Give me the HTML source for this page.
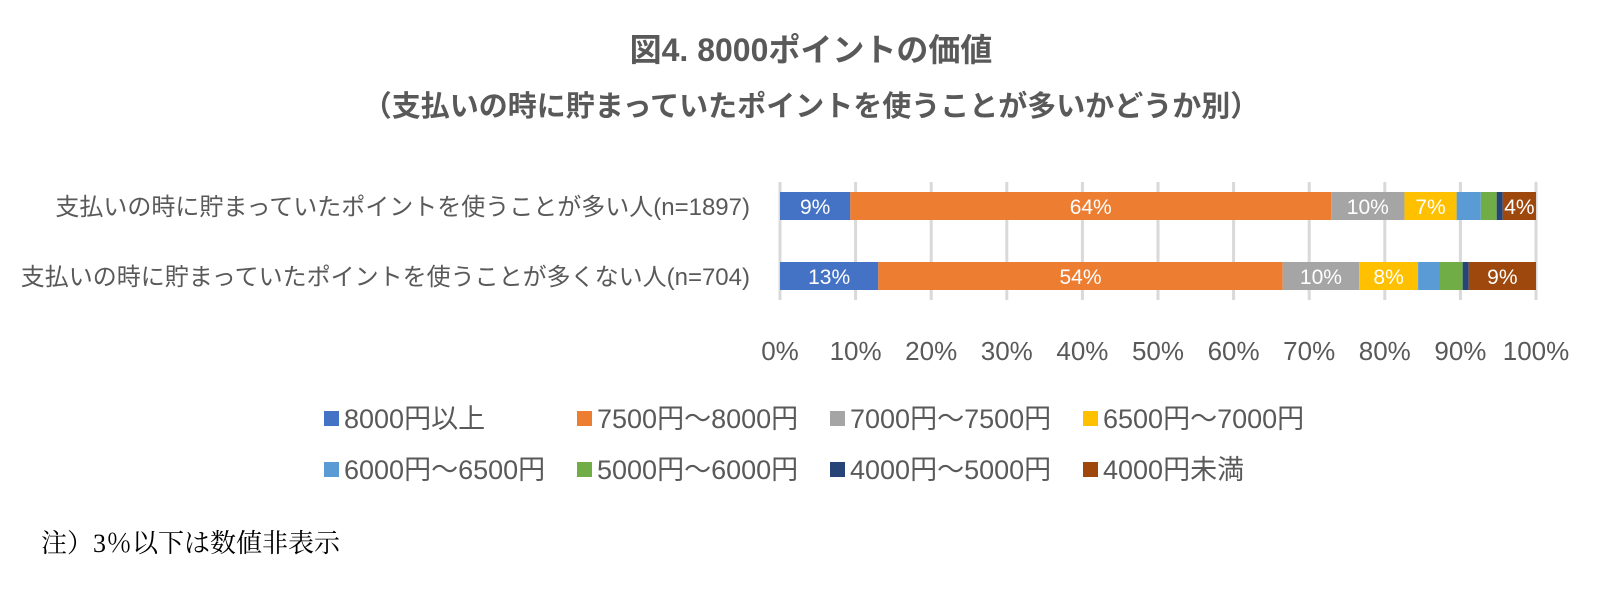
<!DOCTYPE html>
<html><head><meta charset="utf-8"><style>
body{margin:0;background:#fff;}
svg{display:block;font-family:"Liberation Sans","Noto Sans CJK JP",sans-serif;}
</style></head><body>
<svg id="chart" width="1620" height="603" viewBox="0 0 1620 603" xmlns="http://www.w3.org/2000/svg">
<rect width="1620" height="603" fill="#fff"/>
<text x="811" y="61" text-anchor="middle" font-size="32" font-weight="bold" fill="#595959">図4. 8000ポイントの価値</text>
<text x="811" y="116" text-anchor="middle" font-size="29" font-weight="bold" fill="#595959">（支払いの時に貯まっていたポイントを使うことが多いかどうか別）</text>
<g id="grid"></g><g id="bars"></g><g id="ticks"></g><g id="cats"></g><g id="legend"></g>
<text x="41" y="552" font-size="26" fill="#000" font-family="Liberation Serif,Noto Serif CJK SC,serif">注）3％以下は数値非表示</text>
</svg>
<script>
const categories=["支払いの時に貯まっていたポイントを使うことが多い人(n=1897)","支払いの時に貯まっていたポイントを使うことが多くない人(n=704)"];
const seriesNames=["8000円以上","7500円～8000円","7000円～7500円","6500円～7000円","6000円～6500円","5000円～6000円","4000円～5000円","4000円未満"];
const seriesColors=["#4472c4","#ed7d31","#a5a5a5","#ffc000","#5b9bd5","#70ad47","#264478","#9e480e"];
const row1Values=[9.3,63.6,9.7,6.9,3.2,2.1,0.8,4.4];
const row2Values=[13.0,53.5,10.1,7.8,2.9,3.0,0.8,8.9];
const tickValues=[0,10,20,30,40,50,60,70,80,90,100];
const rows=[row1Values,row2Values];
const NS="http://www.w3.org/2000/svg";
const x0=780,x1=1536;
function xs(v){return x0+(x1-x0)*v/100;}
const rowY=[192,262],barH=28;
function mk(tag,attrs,parent,text){const e=document.createElementNS(NS,tag);for(const k in attrs)e.setAttribute(k,attrs[k]);if(text!==undefined)e.textContent=text;document.getElementById(parent).appendChild(e);return e;}
tickValues.forEach((t,i)=>{
  const g=mk("line",{x1:xs(t),x2:xs(t),y1:182,y2:300,stroke:"#d9d9d9","stroke-width":3},"grid");
  
  
  const l=mk("text",{x:xs(t),y:360,"text-anchor":"middle","font-size":26,fill:"#595959"},"ticks",t+"%");
  
  
});
rows.forEach((vals,r)=>{
  let acc=0;
  vals.forEach((v,s)=>{
    const b=mk("rect",{x:xs(acc),y:rowY[r],width:xs(acc+v)-xs(acc),height:barH,fill:seriesColors[s]},"bars");
    
    
    if(v>3.5){
      const t=mk("text",{x:(xs(acc)+xs(acc+v))/2,y:rowY[r]+barH/2+8,"text-anchor":"middle","font-size":21,fill:"#fff"},"bars",Math.round(v)+"%");
      
      
    }
    acc+=v;
  });
  const c=mk("text",{x:750,y:rowY[r]+barH/2+9,"text-anchor":"end","font-size":24,fill:"#595959"},"cats",categories[r]);
  
  
});
seriesNames.forEach((n,i)=>{
  const col=i%4,row=Math.floor(i/4);
  const lx=324+col*253,ly=[419,470][row];
  const sq=mk("rect",{x:lx,y:ly-8,width:15,height:15,fill:seriesColors[i]},"legend");
  
  
  const t=mk("text",{x:lx+20,y:ly+9,"font-size":27,fill:"#595959"},"legend",n);
  
  
});
</script>
</body></html>
